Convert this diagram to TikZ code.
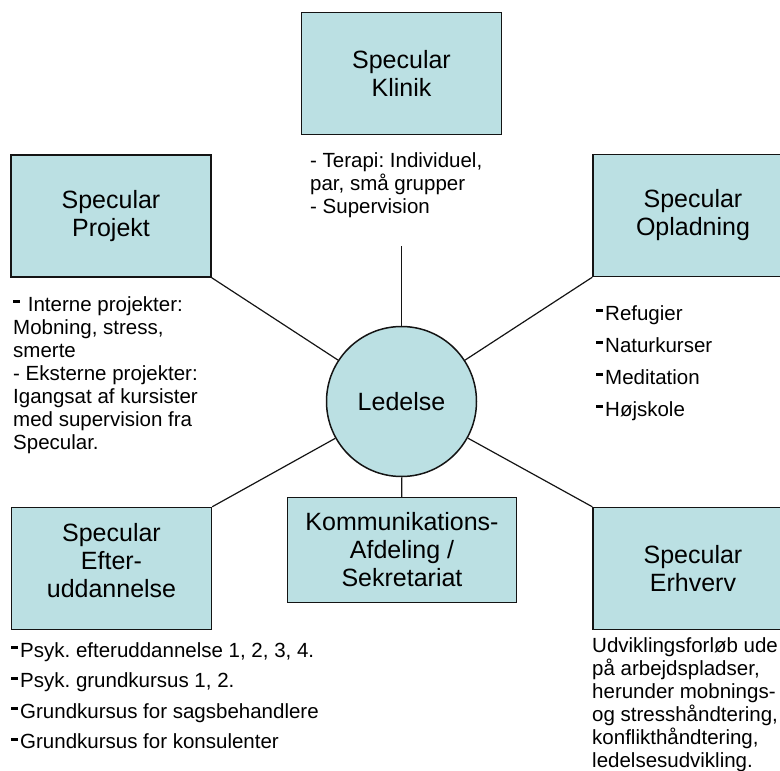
\documentclass[tikz,border=0pt]{standalone}
\usepackage{fontspec}
\setmainfont{Liberation Sans}
\usepackage{tikz}
\usetikzlibrary{shapes,positioning}
\usepackage{xcolor}
\definecolor{spcteal}{RGB}{187,224,227}
\definecolor{spcline}{RGB}{20,20,20}
\frenchspacing
\newcommand{\titlefont}{\fontsize{25}{28}\selectfont}
\newcommand{\notefont}{\fontsize{20.5}{23}\selectfont}
\newcommand{\bul}{\rule[8pt]{7pt}{2.6pt}\hspace{2pt}}
\tikzstyle{unitbox} = [draw=spcline, line width=1.5pt, fill=spcteal, minimum width=200pt, minimum height=122pt, align=center, inner sep=0pt, font=\titlefont]
\tikzstyle{notes} = [anchor=north west, align=left, inner sep=0pt, font=\notefont]
\tikzstyle{link} = [line width=1.2pt, color=spcline]

\begin{document}
\begin{tikzpicture}[x=1pt, y=-1pt]
\useasboundingbox (0,0) rectangle (780,771);
% Centre
\node[circle, draw=spcline, line width=1.5pt, fill=spcteal, minimum size=150pt, font=\titlefont] (led) at (401.5,401.5) {Ledelse};

% Units
\node[unitbox] (klinik) at (401.5,73.5) {Specular\\Klinik};
\node[unitbox] (projekt) at (111,216) {Specular\\Projekt};
\node[unitbox] (oplad) at (693,215.5) {Specular\\Opladning};
\node[unitbox, text depth=16pt] (efter) at (111.5,568.5) {Specular\\Efter-\\uddannelse};
\node[unitbox, minimum width=229pt, minimum height=105pt] (komm) at (402,550) {Kommunikations-\\Afdeling /\\Sekretariat};
\node[unitbox] (erhverv) at (693,568.5) {Specular\\Erhverv};

% Connectors
\coordinate (klinikend) at (401.5,246);
\draw[link] (klinikend) -- (led);
\draw[link] (projekt.south east) -- (led);
\draw[link] (oplad.south west) -- (led);
\draw[link] (efter.north east) -- (led);
\draw[link] (erhverv.north west) -- (led);
\draw[link] (led) -- (komm);

% Descriptions
\node[notes] (klinikinfo) at (310,152) {- Terapi: Individuel,\\par, små grupper\\- Supervision};
\node[notes] (projektinfo) at (13,296) {\bul\ Interne projekter:\\Mobning, stress,\\smerte\\- Eksterne projekter:\\Igangsat af kursister\\med supervision fra\\Specular.};
\node[notes] (opladinfo) at (596,305) {\bul Refugier\\[9pt]\bul Naturkurser\\[9pt]\bul Meditation\\[9pt]\bul Højskole};
\node[notes] (efterinfo) at (11,642) {\bul Psyk. efteruddannelse 1, 2, 3, 4.\\[7.5pt]\bul Psyk. grundkursus 1, 2.\\[7.5pt]\bul Grundkursus for sagsbehandlere\\[7.5pt]\bul Grundkursus for konsulenter};
\node[notes] (erhvervinfo) at (592,637) {Udviklingsforløb ude\\på arbejdspladser,\\herunder mobnings-\\og stresshåndtering,\\konflikthåndtering,\\ledelsesudvikling.};
\end{tikzpicture}
\end{document}
